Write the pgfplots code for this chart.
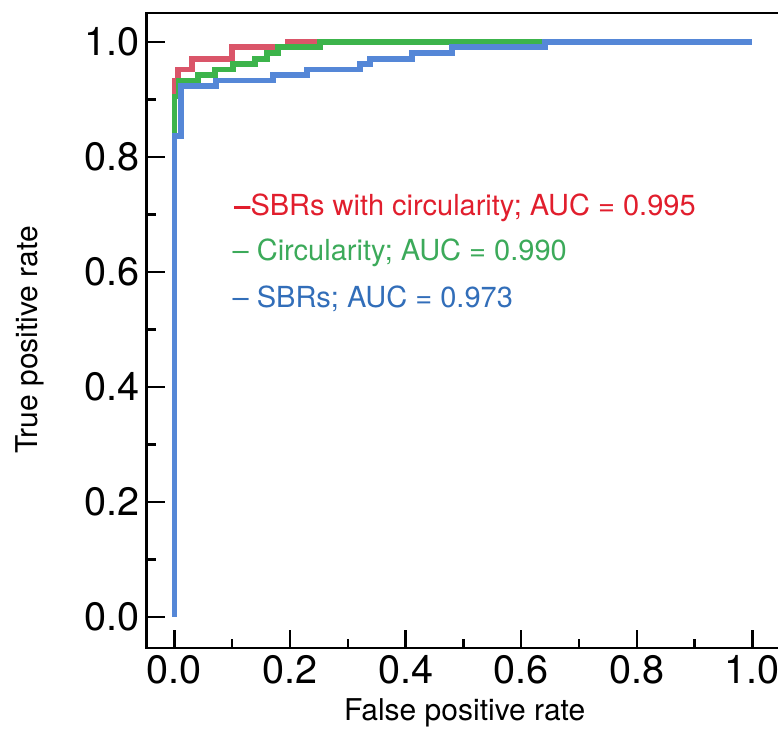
\documentclass[border=0pt]{standalone}
\usepackage{pgfplots}
\pgfplotsset{compat=1.18}
\usepackage{fontspec}
\setmainfont{TeX Gyre Heros}
\definecolor{lred}{RGB}{218,85,105}
\definecolor{lgreen}{RGB}{60,180,75}
\definecolor{lblue}{RGB}{85,135,215}
\definecolor{tred}{RGB}{225,30,45}
\definecolor{tgreen}{RGB}{60,170,90}
\definecolor{tblue}{RGB}{50,110,185}
\begin{document}
\begin{tikzpicture}
\useasboundingbox (-73.35pt,-41.5pt) rectangle (315.65pt,324pt);
\begin{axis}[
  scale only axis, width=320.2pt, height=317.4pt,
  xmin=-0.048, xmax=1.06, ymin=-0.054, ymax=1.05,
  axis line style={line width=1.3pt},
  tick align=inside, tick pos=left,
  major tick length=9pt, minor tick length=4.5pt,
  every tick/.style={black, line width=1.2pt},
  xtick={0,0.2,0.4,0.6,0.8,1.0}, ytick={0,0.2,0.4,0.6,0.8,1.0},
  minor xtick={0.1,0.3,0.5,0.7,0.9}, minor ytick={0.1,0.3,0.5,0.7,0.9},
  ticklabel style={font=\fontsize{19.8}{19.8}\selectfont},
  /pgf/number format/fixed, /pgf/number format/fixed zerofill,
  /pgf/number format/precision=1, /pgf/number format/assume math mode=true,
  clip=false,
]
\addplot[lred, line width=2.9pt] coordinates {
 (0,0) (0,0.933) (0.006,0.933) (0.006,0.952) (0.030,0.952) (0.030,0.971)
 (0.099,0.971) (0.099,0.9905) (0.196,0.9905) (0.196,1.0) (1.0,1.0)};
\addplot[lgreen, line width=2.9pt] coordinates {
 (0,0) (0,0.905) (0.008,0.905) (0.008,0.933) (0.041,0.933) (0.041,0.943)
 (0.070,0.943) (0.070,0.952) (0.101,0.952) (0.101,0.962) (0.139,0.962)
 (0.139,0.971) (0.160,0.971) (0.160,0.981) (0.179,0.981) (0.179,0.9905)
 (0.252,0.9905) (0.252,1.0) (1.0,1.0)};
\addplot[lblue, line width=2.9pt] coordinates {
 (0,0) (0,0.836) (0.011,0.836) (0.011,0.924) (0.072,0.924) (0.072,0.933)
 (0.170,0.933) (0.170,0.943) (0.229,0.943) (0.229,0.952) (0.321,0.952)
 (0.321,0.962) (0.338,0.962) (0.338,0.971) (0.411,0.971) (0.411,0.981)
 (0.480,0.981) (0.480,0.9905) (0.641,0.9905) (0.641,1.0) (1.0,1.0)};
\node[anchor=west, inner sep=0pt, text=tred, font=\fontsize{14.5}{14.5}\selectfont] at (axis cs:0.103,0.711) {\textbf{--}SBRs with circularity; AUC = 0.995};
\node[anchor=west, inner sep=0pt, text=tgreen, font=\fontsize{14.5}{14.5}\selectfont] at (axis cs:0.100,0.633) {-- Circularity; AUC = 0.990};
\node[anchor=west, inner sep=0pt, text=tblue, font=\fontsize{14.5}{14.5}\selectfont] at (axis cs:0.100,0.553) {-- SBRs; AUC = 0.973};
\end{axis}
\node[rotate=90, font=\fontsize{15}{15}\selectfont] at (-58.35pt,154pt) {True positive rate};
\node[font=\fontsize{15}{15}\selectfont] at (159pt,-32.5pt) {False positive rate};
\end{tikzpicture}
\end{document}
